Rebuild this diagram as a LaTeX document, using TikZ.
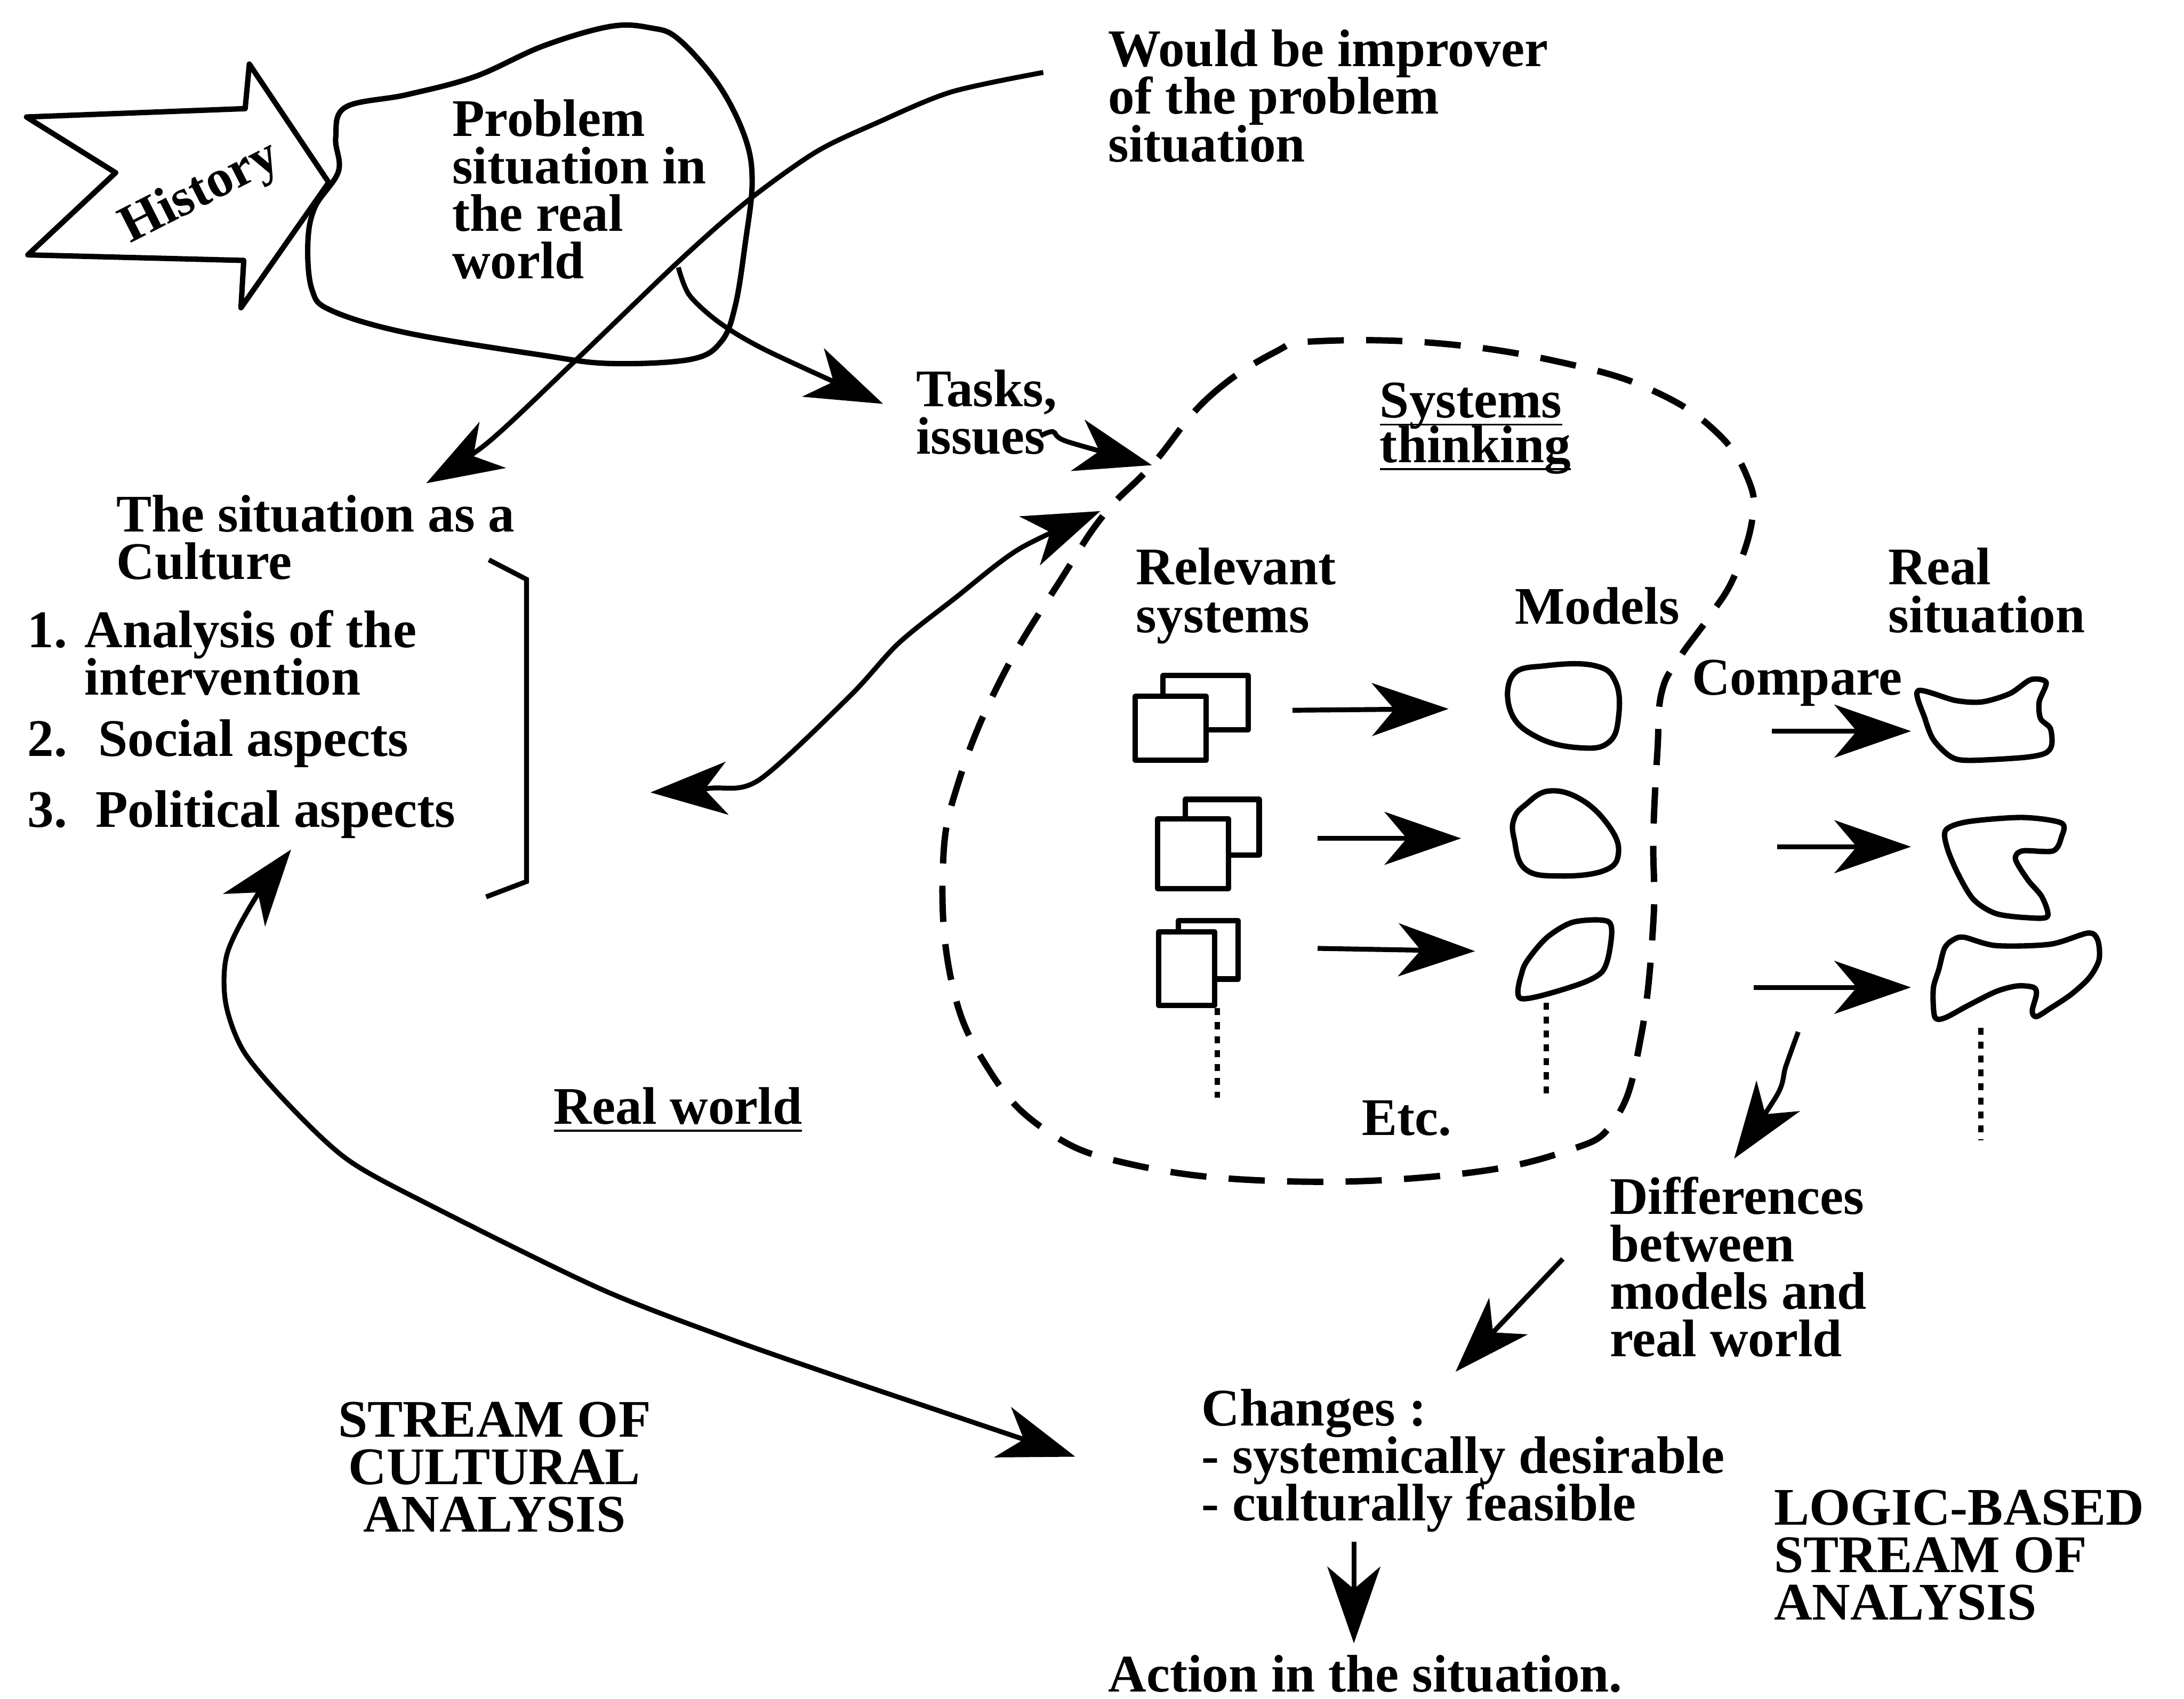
\documentclass[tikz,border=0pt]{standalone}
\usepackage{fontspec}
\setmainfont{Liberation Serif}
\usetikzlibrary{arrows.meta}
\newcommand{\diagfont}{\bfseries\fontsize{10.8}{9.7}\selectfont\lineskiplimit=-20pt\relax}
\newcommand{\uline}[1]{\underline{\smash{#1}}}
\tikzset{
  lbl/.style={inner sep=0pt, anchor=base west, align=left, font=\diagfont},
  arr/.style={line width=1pt, -{Stealth[length=5.5mm,width=3.8mm,inset=1.6mm]}},
  biarr/.style={line width=1pt, {Stealth[length=5.5mm,width=3.8mm,inset=1.6mm]}-{Stealth[length=5.5mm,width=3.8mm,inset=1.6mm]}},
  outline/.style={line width=1.1pt, line join=round},
  dashline/.style={line width=1.3pt, dash pattern=on 2.6mm off 1.6mm},
  dotline/.style={line width=1.1pt, dash pattern=on 0.5mm off 0.5mm},
}
\begin{document}
\begin{tikzpicture}[x=1cm, y=-1cm]
\useasboundingbox (0,0) rectangle (15.68,12.20);
% history arrow
\draw[outline] (0.19,0.84) -- (1.76,0.78) -- (1.79,0.46) -- (2.36,1.31) -- (1.73,2.21)
  -- (1.75,1.87) -- (0.20,1.83) -- (0.83,1.24) -- cycle;
\node[font=\diagfont, rotate=27, inner sep=0pt] (history) at (1.44,1.39) {History};
% problem situation blob
\draw[outline] plot[smooth cycle, tension=0.6] coordinates {(2.48,0.77) (2.92,0.68) (3.41,0.55)
  (3.90,0.33) (4.38,0.19) (4.67,0.20) (4.87,0.28) (5.16,0.61) (5.35,0.99) (5.40,1.31) (5.35,1.75)
  (5.28,2.19) (5.18,2.45) (4.96,2.58) (4.38,2.61) (3.89,2.55) (2.92,2.39) (2.38,2.23) (2.24,2.08)
  (2.21,1.75) (2.26,1.49) (2.43,1.23) (2.41,0.99)};
\node[lbl] (problem) at (3.24,2.00) {Problem\\situation in\\the real\\world};
\node[lbl] (improver) at (7.95,1.16) {Would be improver\\of the problem\\situation};
% systems thinking blob
\draw[dashline] plot[smooth cycle, tension=0.7] coordinates {(8.27,3.34) (8.67,2.86) (9.15,2.53)
  (9.46,2.45) (10.38,2.47) (11.29,2.62) (11.90,2.82) (12.33,3.11) (12.55,3.44) (12.58,3.73)
  (12.45,4.14) (12.27,4.43) (12.06,4.72) (11.93,4.97) (11.90,5.38) (11.87,6.00) (11.87,6.62)
  (11.78,7.45) (11.60,8.03) (11.23,8.27) (10.38,8.44) (9.15,8.48) (8.12,8.36) (7.50,8.11)
  (7.08,7.65) (6.83,7.04) (6.77,6.21) (6.89,5.59) (7.20,4.85) (7.63,4.14) (7.93,3.69)};
\node[lbl] (tasks) at (6.57,3.26) {Tasks,\\issues};
\node[lbl] (systems) at (9.90,3.32) {\uline{Systems}\\[-0.2mm]\uline{thinking}};
% culture
\node[lbl] (culture) at (0.83,4.16) {The situation as a\\Culture};
\node[lbl] (item1) at (0.19,4.99) {\makebox[4.1mm][l]{1.}Analysis of the\\\hspace*{4.1mm}intervention};
\node[lbl] (item2) at (0.19,5.43) {\makebox[5.1mm][l]{2.}Social aspects};
\node[lbl] (item3) at (0.19,5.94) {\makebox[4.9mm][l]{3.}Political aspects};
\draw[line width=1pt] (3.51,4.02) -- (3.78,4.16) -- (3.78,6.33) -- (3.49,6.44);
\node[lbl] (realworld) at (3.97,8.07) {\uline{Real world}};
% column heads
\node[lbl] (relevant) at (8.15,4.54) {Relevant\\systems};
\node[lbl] (models) at (10.87,4.48) {Models};
\node[lbl] (realsit) at (13.55,4.54) {Real\\situation};
\node[lbl] (compare) at (12.14,4.99) {Compare};
\node[lbl] (etc) at (9.77,8.15) {Etc.};
% relevant systems
\draw[outline, fill=white] (8.35,4.85) rectangle (8.96,5.24);
\draw[outline, fill=white] (8.15,5.00) rectangle (8.66,5.46);
\draw[outline, fill=white] (8.51,5.74) rectangle (9.04,6.14);
\draw[outline, fill=white] (8.31,5.88) rectangle (8.82,6.38);
\draw[outline, fill=white] (8.46,6.61) rectangle (8.89,7.03);
\draw[outline, fill=white] (8.32,6.69) rectangle (8.72,7.22);
% models
\draw[outline] plot[smooth cycle, tension=0.7] coordinates {(10.86,4.85) (11.10,4.78) (11.45,4.78)
  (11.60,4.90) (11.62,5.15) (11.55,5.33) (11.35,5.37) (11.05,5.30) (10.85,5.12)};
\draw[outline] plot[smooth cycle, tension=0.7] coordinates {(10.95,5.78) (11.12,5.68) (11.35,5.74)
  (11.55,5.93) (11.62,6.12) (11.52,6.25) (11.20,6.29) (10.95,6.24) (10.87,6.02) (10.87,5.88)};
\draw[outline] plot[smooth cycle, tension=0.5] coordinates {(11.12,6.72) (11.30,6.62) (11.55,6.62)
  (11.56,6.80) (11.50,6.98) (11.30,7.08) (10.92,7.17) (10.93,6.97) (11.00,6.85)};
% real situations
\draw[outline] plot[smooth cycle, tension=0.5] coordinates {(13.77,4.96) (14.04,5.03) (14.23,5.04)
  (14.43,4.98) (14.58,4.88) (14.69,4.90) (14.64,5.04) (14.65,5.16) (14.72,5.23) (14.73,5.35)
  (14.68,5.41) (14.52,5.44) (14.13,5.46) (14.00,5.43) (13.88,5.31) (13.82,5.16)};
\draw[outline] plot[smooth cycle, tension=0.5] coordinates {(13.97,5.96) (14.13,5.90) (14.52,5.87)
  (14.80,5.91) (14.80,6.01) (14.74,6.11) (14.52,6.11) (14.47,6.17) (14.56,6.32) (14.66,6.44)
  (14.70,6.58) (14.56,6.59) (14.33,6.56) (14.17,6.46) (14.06,6.28) (13.98,6.09)};
\draw[outline] plot[smooth cycle, tension=0.5] coordinates {(14.02,6.75) (14.10,6.73) (14.33,6.79)
  (14.72,6.78) (14.99,6.70) (15.06,6.75) (15.07,6.89) (15.00,7.02) (14.87,7.14) (14.72,7.24)
  (14.62,7.30) (14.59,7.26) (14.62,7.14) (14.60,7.09) (14.48,7.08) (14.33,7.12) (14.13,7.22)
  (13.96,7.31) (13.89,7.30) (13.88,7.10) (13.92,6.96) (13.96,6.81)};
% dotted continuations
\draw[dotline] (8.74,7.24) -- (8.74,7.88);
\draw[dotline] (11.10,7.20) -- (11.10,7.86);
\draw[dotline] (14.22,7.38) -- (14.22,8.19);
% lower texts
\node[lbl] (differences) at (11.55,9.74) {Differences\\between\\models and\\real world};
\node[lbl] (changes) at (8.62,10.92) {Changes :\\- systemically desirable\\- culturally feasible};
\node[lbl, anchor=base, align=center] (stream) at (3.55,11.00) {STREAM OF\\CULTURAL\\ANALYSIS};
\node[lbl] (logic) at (12.73,11.63) {LOGIC-BASED\\STREAM OF\\ANALYSIS};
\node[lbl] (action) at (7.95,12.15) {Action in the situation.};
% arrow end points
\coordinate (impStart) at (7.49,0.52);
\coordinate (cultTip) at (3.06,3.47);
\coordinate (tasksFrom) at (4.87,1.92);
\coordinate (tasksTip) at (6.34,2.90);
\coordinate (issuesFrom) at (7.47,3.13);
\coordinate (issuesTip) at (8.27,3.34);
\coordinate (listEnd) at (4.67,5.69);
\coordinate (thinkEnd) at (7.90,3.67);
\coordinate (aspectEnd) at (2.09,6.10);
\coordinate (changeEnd) at (7.72,10.46);
\coordinate (rs1) at (9.28,5.10); \coordinate (md1) at (10.40,5.09);
\coordinate (rs2) at (9.46,6.02); \coordinate (md2) at (10.49,6.02);
\coordinate (rs3) at (9.46,6.81); \coordinate (md3) at (10.59,6.83);
\coordinate (cp1) at (12.72,5.25); \coordinate (rl1) at (13.72,5.25);
\coordinate (cp2) at (12.76,6.08); \coordinate (rl2) at (13.72,6.08);
\coordinate (cp3) at (12.59,7.09); \coordinate (rl3) at (13.72,7.09);
\coordinate (diffFrom) at (12.91,7.41);
\coordinate (diffTip) at (12.45,8.32);
\coordinate (chgFrom) at (11.22,9.04);
\coordinate (chgTip) at (10.45,9.85);
\coordinate (actFrom) at (9.72,11.07);
\coordinate (actTip) at (9.72,11.80);
% arrows
\draw[arr] plot[smooth] coordinates {(impStart) (6.83,0.66) (6.30,0.88) (5.86,1.09) (5.37,1.44)
  (4.88,1.87) (4.13,2.59) (3.50,3.18) (cultTip)};
\draw[arr] plot[smooth] coordinates {(tasksFrom) (4.95,2.12) (5.17,2.32) (5.51,2.52) (tasksTip)};
\draw[arr] plot[smooth] coordinates {(issuesFrom) (7.56,3.10) (7.66,3.17) (issuesTip)};
\draw[biarr] plot[smooth] coordinates {(listEnd) (5.10,5.66) (5.45,5.60) (6.10,5.00) (6.45,4.62)
  (6.85,4.30) (7.32,3.94) (thinkEnd)};
\draw[biarr] plot[smooth] coordinates {(aspectEnd) (1.82,6.47) (1.63,6.85) (1.62,7.20) (1.75,7.55)
  (2.07,7.93) (2.50,8.33) (3.10,8.66) (4.30,9.25) (5.20,9.60) (6.00,9.88) (6.80,10.15) (changeEnd)};
\draw[arr] (rs1) -- (md1);
\draw[arr] (rs2) -- (md2);
\draw[arr] (rs3) -- (md3);
\draw[arr] (cp1) -- (rl1);
\draw[arr] (cp2) -- (rl2);
\draw[arr] (cp3) -- (rl3);
\draw[arr] plot[smooth] coordinates {(diffFrom) (12.82,7.66) (12.76,7.86) (diffTip)};
\draw[arr] (chgFrom) -- (chgTip);
\draw[arr] (actFrom) -- (actTip);
\end{tikzpicture}
\end{document}
